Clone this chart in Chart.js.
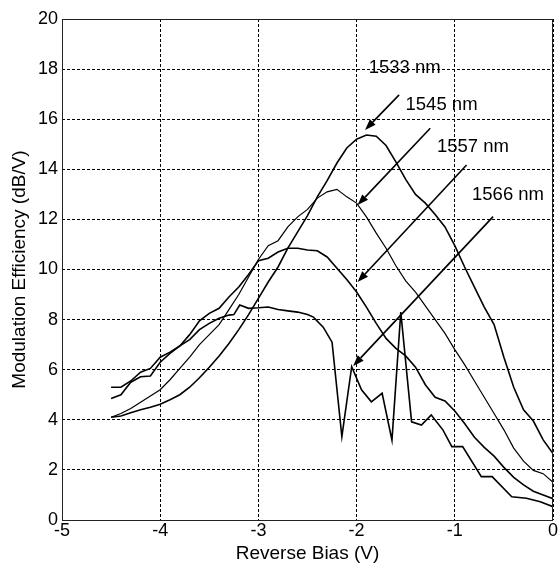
<!DOCTYPE html>
<html>
<head>
<meta charset="utf-8">
<script src="https://cdn.jsdelivr.net/npm/chart.js@4.4.0/dist/chart.umd.min.js"></script>
<style>
  html, body { margin: 0; padding: 0; background: #fff; }
  #wrap { width: 559px; height: 567px; }
</style>
</head>
<body>
<div id="wrap"><canvas id="effChart" width="559" height="567"></canvas></div>
<script>
// reverse bias points (V)
const biasX = [-4.5, -4.4, -4.3, -4.2, -4.1, -4.0, -3.9, -3.8, -3.7, -3.6, -3.5, -3.4, -3.3, -3.2, -3.1, -3.0,
  -2.9, -2.8, -2.7, -2.6, -2.5, -2.4, -2.3, -2.2, -2.1, -2.0, -1.9, -1.8, -1.7, -1.6, -1.5, -1.4, -1.3,
  -1.2, -1.1, -1.0, -0.9, -0.8, -0.7, -0.6, -0.5, -0.4, -0.3, -0.2, -0.1, 0];

const eff1533 = [4.1, 4.15, 4.28, 4.4, 4.5, 4.62, 4.8, 5.0, 5.3, 5.68, 6.1, 6.55, 7.05, 7.6, 8.2, 8.85,
  9.5, 10.1, 10.85, 11.5, 12.15, 12.9, 13.55, 14.25, 14.85, 15.2, 15.37, 15.32, 14.95, 14.3, 13.6, 13.0, 12.65,
  12.2, 11.7, 10.95, 10.1, 9.3, 8.5, 7.8, 6.5, 5.3, 4.4, 3.95, 3.2, 2.65];

const eff1545 = [4.1, 4.25, 4.45, 4.7, 4.95, 5.2, 5.6, 6.05, 6.5, 7.0, 7.4, 7.8, 8.4, 9.0, 9.7, 10.4,
  10.95, 11.15, 11.7, 12.1, 12.4, 12.85, 13.1, 13.2, 12.9, 12.65, 12.1, 11.45, 10.85, 10.15, 9.55, 9.1, 8.55,
  8.0, 7.45, 6.8, 6.2, 5.55, 4.9, 4.25, 3.6, 2.87, 2.35, 1.98, 1.85, 1.5];

const eff1557 = [5.3, 5.3, 5.55, 5.9, 6.05, 6.5, 6.7, 6.95, 7.4, 7.95, 8.25, 8.45, 8.9, 9.3, 9.8, 10.35,
  10.45, 10.7, 10.85, 10.85, 10.78, 10.75, 10.5, 10.05, 9.6, 9.1, 8.5, 7.85, 7.25, 6.85, 6.55, 6.1, 5.4,
  4.9, 4.75, 4.35, 3.85, 3.3, 2.9, 2.55, 2.1, 1.7, 1.4, 1.15, 1.0, 0.85];

const bias1566 = [-4.5, -4.4, -4.3, -4.2, -4.1, -4.0, -3.9, -3.8, -3.7, -3.6, -3.5, -3.4, -3.3, -3.25, -3.19,
  -3.1, -3.0, -2.9, -2.8, -2.7, -2.6, -2.5, -2.44, -2.34, -2.25, -2.15, -2.05, -1.95, -1.85, -1.74, -1.64,
  -1.55, -1.44, -1.34, -1.24, -1.12, -1.03, -0.92, -0.73, -0.62, -0.42, -0.27, -0.13, 0];
const eff1566 = [4.85, 5.0, 5.5, 5.72, 5.75, 6.3, 6.65, 6.95, 7.2, 7.6, 7.85, 8.05, 8.18, 8.2, 8.58,
  8.45, 8.47, 8.5, 8.4, 8.35, 8.3, 8.2, 8.1, 7.7, 7.1, 3.33, 6.12, 5.2, 4.72, 5.06, 3.19,
  8.3, 3.92, 3.79, 4.19, 3.59, 2.93, 2.93, 1.73, 1.73, 0.93, 0.87, 0.73, 0.53];

// wavelength labels and arrows (data units)
const labelText = ['1533 nm', '1545 nm', '1557 nm', '1566 nm'];
const labelX = [-1.51, -1.135, -0.815, -0.458];
const labelY = [18.04, 16.57, 14.89, 12.97];
const arrowFromX = [-1.567, -1.25, -0.88, -0.61];
const arrowFromY = [16.97, 15.64, 14.17, 12.11];
const arrowToX = [-1.914, -1.99, -1.99, -2.035];
const arrowToY = [15.57, 12.57, 9.5, 6.15];

const xTicks = [-5, -4, -3, -2, -1, 0];
const yTicks = [0, 2, 4, 6, 8, 10, 12, 14, 16, 18, 20];

const fontName = '"Liberation Sans", Arial, sans-serif';

function toPoints(xs, ys) {
    return xs.map((v, i) => ({ x: v, y: ys[i] }));
}

// frame + arrows + labels
const annotate = {
    id: 'annotate',
    afterDatasetsDraw(chart) {
        const { ctx, chartArea, scales } = chart;
        ctx.save();
        ctx.strokeStyle = '#222';
        ctx.lineWidth = 1;
        ctx.strokeRect(chartArea.left + 0.5, chartArea.top + 0.5,
            chartArea.right - chartArea.left - 1, chartArea.bottom - chartArea.top);

        ctx.strokeStyle = '#000';
        ctx.fillStyle = '#000';
        ctx.lineWidth = 1.6;
        for (let i = 0; i < labelText.length; i++) {
            const x0 = scales.x.getPixelForValue(arrowFromX[i]);
            const y0 = scales.y.getPixelForValue(arrowFromY[i]);
            const x1 = scales.x.getPixelForValue(arrowToX[i]);
            const y1 = scales.y.getPixelForValue(arrowToY[i]);
            const ang = Math.atan2(y1 - y0, x1 - x0);
            const headLen = 11, headW = 4;
            const bx = x1 - headLen * Math.cos(ang);
            const by = y1 - headLen * Math.sin(ang);
            ctx.beginPath();
            ctx.moveTo(x0, y0);
            ctx.lineTo(bx, by);
            ctx.stroke();
            ctx.beginPath();
            ctx.moveTo(x1, y1);
            ctx.lineTo(bx + headW * Math.sin(ang), by - headW * Math.cos(ang));
            ctx.lineTo(bx - headW * Math.sin(ang), by + headW * Math.cos(ang));
            ctx.closePath();
            ctx.fill();

            ctx.font = '18.5px ' + fontName;
            ctx.textAlign = 'center';
            ctx.textBaseline = 'middle';
            ctx.fillText(labelText[i], scales.x.getPixelForValue(labelX[i]), scales.y.getPixelForValue(labelY[i]));
        }
        ctx.restore();
    }
};

const ctx = document.getElementById('effChart').getContext('2d');
new Chart(ctx, {
    type: 'line',
    data: {
        datasets: [
            { label: '1533 nm', data: toPoints(biasX, eff1533), borderWidth: 1.6 },
            { label: '1545 nm', data: toPoints(biasX, eff1545), borderWidth: 1.2 },
            { label: '1557 nm', data: toPoints(biasX, eff1557), borderWidth: 1.6 },
            { label: '1566 nm', data: toPoints(bias1566, eff1566), borderWidth: 1.6 }
        ].map(ds => Object.assign(ds, {
            borderColor: '#000',
            pointRadius: 0,
            tension: 0,
            fill: false
        }))
    },
    options: {
        responsive: false,
        animation: false,
        layout: { padding: { top: 19, right: 6, bottom: 0, left: 0 } },
        plugins: {
            legend: { display: false },
            tooltip: { enabled: false }
        },
        scales: {
            x: {
                type: 'linear',
                min: -5,
                max: 0,
                afterBuildTicks: scale => { scale.ticks = xTicks.map(v => ({ value: v })); },
                afterFit: scale => { scale.height = 47; },
                ticks: {
                    color: '#000',
                    padding: 0,
                    maxRotation: 0,
                    font: { family: fontName, size: 18 }
                },
                grid: { color: '#000', lineWidth: 1, drawTicks: false },
                border: { display: false, dash: [3, 2] },
                title: {
                    display: true,
                    text: 'Reverse Bias (V)',
                    color: '#000',
                    font: { family: fontName, size: 19 },
                    padding: { top: 0, bottom: 2 }
                }
            },
            y: {
                min: 0,
                max: 20,
                afterBuildTicks: scale => { scale.ticks = yTicks.map(v => ({ value: v })); },
                afterFit: scale => { scale.width = 62; },
                ticks: {
                    color: '#000',
                    padding: 4,
                    font: { family: fontName, size: 18 }
                },
                grid: { color: '#000', lineWidth: 1, drawTicks: false },
                border: { display: false, dash: [3, 2] },
                title: {
                    display: true,
                    text: 'Modulation Efficiency (dB/V)',
                    color: '#000',
                    font: { family: fontName, size: 19 },
                    padding: { top: 8, bottom: 0 }
                }
            }
        }
    },
    plugins: [annotate]
});
</script>
</body>
</html>
